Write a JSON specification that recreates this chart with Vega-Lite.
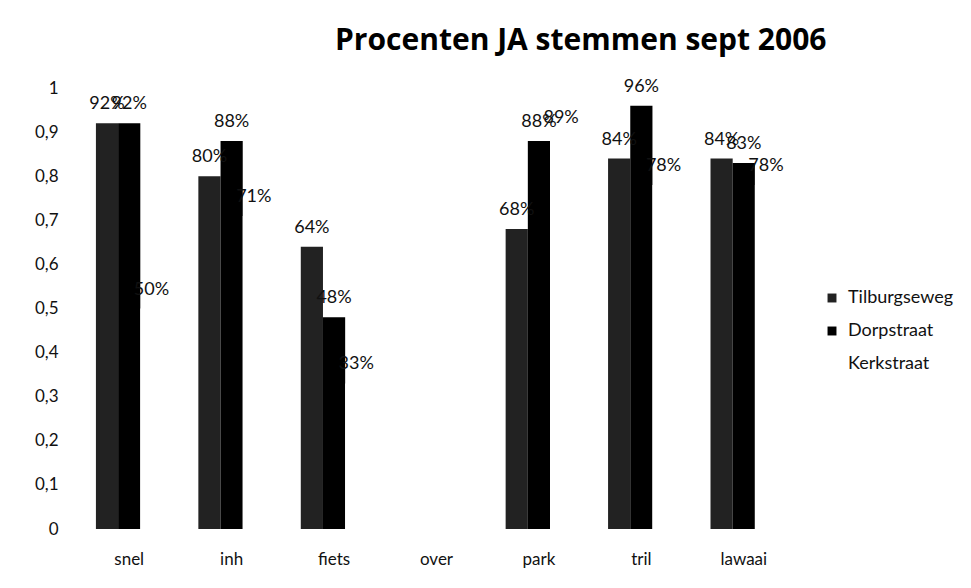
{
  "$schema": "https://vega.github.io/schema/vega-lite/v6.json",
  "width": 717,
  "height": 441,
  "autosize": {"type": "none"},
  "padding": {"left": 78, "top": 88, "right": 176, "bottom": 59},
  "title": {
    "text": "Procenten JA stemmen sept 2006",
    "anchor": "start",
    "frame": "group",
    "dx": 257,
    "offset": 22,
    "fontSize": 30,
    "font": "Open Sans",
    "fontWeight": "bold",
    "color": "#000000"
  },
  "config": {
    "locale": {"number": {"decimal": ",", "thousands": ".", "grouping": [3], "currency": ["€", ""]}},
    "view": {"stroke": null},
    "axis": {"grid": false, "domain": false, "ticks": false}
  },
  "data": {
    "values": [
      {"onderwerp": "snel", "straat": "Tilburgseweg", "waarde": 0.92},
      {"onderwerp": "snel", "straat": "Dorpstraat", "waarde": 0.92},
      {"onderwerp": "snel", "straat": "Kerkstraat", "waarde": 0.50},
      {"onderwerp": "inh", "straat": "Tilburgseweg", "waarde": 0.80},
      {"onderwerp": "inh", "straat": "Dorpstraat", "waarde": 0.88},
      {"onderwerp": "inh", "straat": "Kerkstraat", "waarde": 0.71},
      {"onderwerp": "fiets", "straat": "Tilburgseweg", "waarde": 0.64},
      {"onderwerp": "fiets", "straat": "Dorpstraat", "waarde": 0.48},
      {"onderwerp": "fiets", "straat": "Kerkstraat", "waarde": 0.33},
      {"onderwerp": "park", "straat": "Tilburgseweg", "waarde": 0.68},
      {"onderwerp": "park", "straat": "Dorpstraat", "waarde": 0.88},
      {"onderwerp": "park", "straat": "Kerkstraat", "waarde": 0.89},
      {"onderwerp": "tril", "straat": "Tilburgseweg", "waarde": 0.84},
      {"onderwerp": "tril", "straat": "Dorpstraat", "waarde": 0.96},
      {"onderwerp": "tril", "straat": "Kerkstraat", "waarde": 0.78},
      {"onderwerp": "lawaai", "straat": "Tilburgseweg", "waarde": 0.84},
      {"onderwerp": "lawaai", "straat": "Dorpstraat", "waarde": 0.83},
      {"onderwerp": "lawaai", "straat": "Kerkstraat", "waarde": 0.78}
    ]
  },
  "encoding": {
    "x": {
      "field": "onderwerp",
      "type": "nominal",
      "scale": {"domain": ["snel", "inh", "fiets", "over", "park", "tril", "lawaai"], "paddingInner": 0.35, "paddingOuter": 0.175},
      "axis": {"title": null, "labelAngle": 0, "labelPadding": 22, "labelFont": "Lato", "labelFontSize": 17, "labelColor": "#111111"}
    },
    "xOffset": {
      "field": "straat",
      "type": "nominal",
      "scale": {"domain": ["Tilburgseweg", "Dorpstraat", "Kerkstraat"], "paddingInner": 0}
    },
    "y": {
      "field": "waarde",
      "type": "quantitative",
      "scale": {"domain": [0, 1]},
      "axis": {
        "title": null,
        "values": [0, 0.1, 0.2, 0.3, 0.4, 0.5, 0.6, 0.7, 0.8, 0.9, 1],
        "format": ".1~f",
        "labelAlign": "right",
        "labelPadding": 20,
        "labelFont": "Lato",
        "labelFontSize": 17,
        "labelColor": "#111111"
      }
    }
  },
  "layer": [
    {
      "mark": {"type": "bar"},
      "encoding": {
        "color": {
          "field": "straat",
          "type": "nominal",
          "scale": {"domain": ["Tilburgseweg", "Dorpstraat", "Kerkstraat"], "range": ["#222222", "#000000", "#ffffff"]},
          "legend": {
            "title": null,
            "orient": "none",
            "legendX": 745,
            "legendY": 201,
            "symbolType": "square",
            "symbolSize": 80,
            "symbolStrokeWidth": 0,
            "labelFont": "Lato",
            "labelFontSize": 18,
            "labelColor": "#111111",
            "rowPadding": 15,
            "labelOffset": 7
          }
        }
      }
    },
    {
      "mark": {"type": "text", "dy": -19, "font": "Lato", "fontSize": 18, "color": "#111111"},
      "encoding": {
        "text": {"field": "waarde", "type": "quantitative", "format": ".0%"}
      }
    }
  ]
}
